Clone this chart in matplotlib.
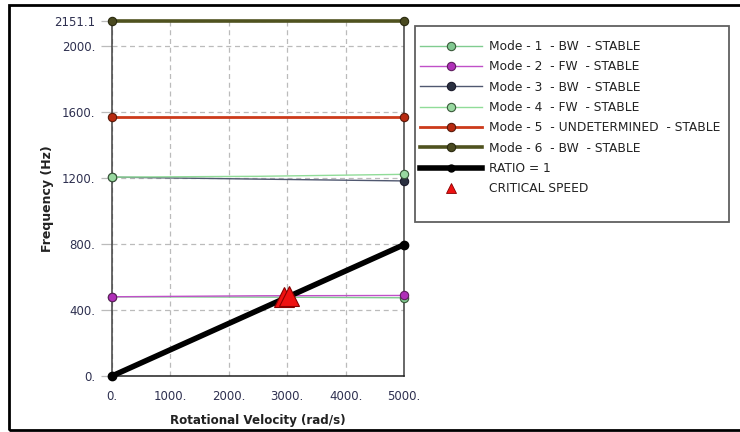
import matplotlib
matplotlib.use("Agg")
import matplotlib.pyplot as plt
from matplotlib.patches import Rectangle
from matplotlib.lines import Line2D

# ---- data ----
speeds = [0, 2500, 5000]
mode_labels = ["Mode - 1  - BW  - STABLE",
               "Mode - 2  - FW  - STABLE",
               "Mode - 3  - BW  - STABLE",
               "Mode - 4  - FW  - STABLE",
               "Mode - 5  - UNDETERMINED  - STABLE",
               "Mode - 6  - BW  - STABLE"]
mode1 = [480, 478, 474]
mode2 = [480, 486, 488]
mode3 = [1205, 1193, 1182]
mode4 = [1205, 1210, 1222]
mode5 = [1570, 1570, 1570]
mode6 = [2151.1, 2151.1, 2151.1]
ratio_x = [0, 5000]
ratio_y = [0, 795.8]
crit_x = [2950, 3036]
crit_y = [478, 487]
xticks = [0, 1000, 2000, 3000, 4000, 5000]
xticklabels = ["0.", "1000.", "2000.", "3000.", "4000.", "5000."]
yticks = [0, 400, 800, 1200, 1600, 2000, 2151.1]
yticklabels = ["0.", "400.", "800.", "1200.", "1600.", "2000.", "2151.1"]

plt.rcParams['font.family'] = ['DejaVu Sans']

fig = plt.figure(figsize=(7.4, 4.32), dpi=100)
ax = fig.add_axes([112/740, 1-376/432, (404-112)/740, (376-21)/432])

styles = [
    dict(color="#80cc90", lw=1.0, mfc="#80c890", mec="#3a5a3a"),
    dict(color="#c050c8", lw=1.0, mfc="#b030b8", mec="#602060"),
    dict(color="#505870", lw=1.0, mfc="#2a3040", mec="#1a1a2a"),
    dict(color="#90dc98", lw=1.0, mfc="#98d8a0", mec="#3a5a3a"),
    dict(color="#cc3a1a", lw=2.0, mfc="#b82a10", mec="#5a1a0a"),
    dict(color="#4f521f", lw=2.6, mfc="#4a4a20", mec="#2a2a10"),
]
series = [mode1, mode2, mode3, mode4, mode5, mode6]
handles = []
for vals, lab, st in zip(series, mode_labels, styles):
    ax.plot(speeds, vals, color=st["color"], lw=st["lw"], marker="o", ms=6,
            mfc=st["mfc"], mec=st["mec"], mew=0.8, markevery=[0, len(vals)-1],
            zorder=3, clip_on=False)
    handles.append(Line2D([], [], color=st["color"], lw=st["lw"], marker="o",
                          ms=6, mfc=st["mfc"], mec=st["mec"], mew=0.8,
                          label=lab))

ax.plot(ratio_x, ratio_y, color="black", lw=4, marker="o", ms=6,
        mfc="black", mec="black", zorder=4, clip_on=False)
handles.append(Line2D([], [], color="black", lw=4, marker="o", ms=5,
                      mfc="black", mec="black", label="RATIO = 1"))
ax.plot(crit_x, crit_y, linestyle="none", marker="^", ms=14, mfc="#ee1111",
        mec="#880000", mew=0.8, zorder=5)
handles.append(Line2D([], [], linestyle="none", marker="^", ms=7,
                      mfc="#ee1111", mec="#880000", mew=0.6,
                      label="CRITICAL SPEED"))

ax.set_xlim(0, 5000)
ax.set_ylim(0, 2151.1)
ax.set_xticks(xticks)
ax.set_xticklabels(xticklabels)
ax.set_yticks(yticks)
ax.set_yticklabels(yticklabels)
ax.grid(True, color="#bbbbbb", linestyle=(0, (4, 3)), lw=0.9)
ax.tick_params(axis="x", length=0, pad=10, labelsize=8.5, labelcolor="#2e3050")
ax.tick_params(axis="y", length=8, width=0.9, color="#bbbbbb", pad=4,
               labelsize=8.5, labelcolor="#2e3050")
ax.spines["top"].set_visible(False)
for s in ["left", "right"]:
    ax.spines[s].set_color("#404040")
    ax.spines[s].set_linewidth(1.1)
ax.spines["bottom"].set_color("#202020")
ax.spines["bottom"].set_linewidth(1.1)

ax.set_xlabel("Rotational Velocity (rad/s)", fontsize=8.6, fontweight="bold",
              labelpad=8, color="#222222")
ax.set_ylabel("Frequency (Hz)", fontsize=9, fontweight="bold", color="#222222")
ax.yaxis.set_label_coords(-0.2, 0.5)

leg = ax.legend(handles=handles, loc="upper left",
                bbox_to_anchor=(420/740, 1-40/432),
                bbox_transform=fig.transFigure, fontsize=8.8, frameon=False,
                borderpad=0, handlelength=5.07, labelspacing=0.6,
                handletextpad=0.57, borderaxespad=0, numpoints=1)
for t in leg.get_texts():
    t.set_color("#222222")

fig.patches.append(Rectangle((415/740, 1-222/432), (729-415)/740, (222-26)/432,
                             transform=fig.transFigure, fill=False,
                             edgecolor="#606060", lw=1.3, zorder=0))
fig.patches.append(Rectangle((9/740, 1-430/432), 1.0, (430-5)/432,
                             transform=fig.transFigure, fill=False,
                             edgecolor="black", lw=2.0, zorder=0))

fig.savefig("out.png", dpi=100)
